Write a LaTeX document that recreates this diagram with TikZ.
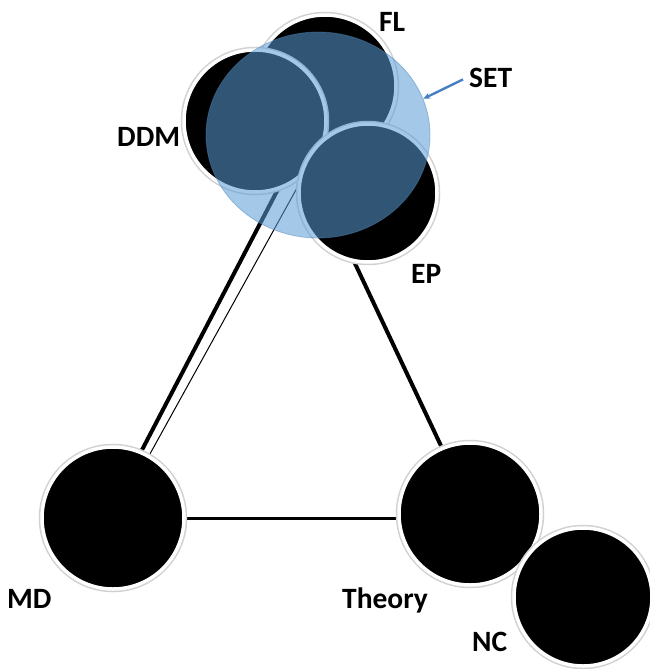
\documentclass[tikz,border=0pt]{standalone}
\usepackage{fontspec}
\setmainfont{Carlito}
\usetikzlibrary{shapes.geometric,arrows.meta}
\definecolor{setblue}{RGB}{91,155,213}
\definecolor{arrowblue}{RGB}{70,128,195}
\pgfdeclarelayer{background}
\pgfsetlayers{background,main}
\begin{document}
\begin{tikzpicture}[x=1pt,y=-1pt,
  ball/.style={circle, fill=black, draw=white, line width=3.5pt, inner sep=0pt,
    preaction={draw=black!18, line width=6.5pt}},
  bigball/.style={ball, minimum size=142pt},
  smallball/.style={ball, minimum size=138pt},
  lbl/.style={anchor=base west, inner sep=0pt, font=\fontsize{29.5}{33}\selectfont\bfseries},
  thickline/.style={line width=4pt, black},
  midline/.style={line width=3pt, black},
  thinline/.style={line width=1pt, black},
  setcircle/.style={ellipse, minimum width=224pt, minimum height=206pt, inner sep=0pt,
    fill=setblue, fill opacity=0.55, draw=setblue!85!black, draw opacity=0.45, line width=0.8pt},
  setarrow/.style={-{Stealth[length=7pt,width=6pt]}, line width=2.4pt, arrowblue}
]
\useasboundingbox (0,0) rectangle (650,669);

% bottom nodes
\node[bigball] (MD) at (113,518) {};
\node[bigball] (Theory) at (470,514) {};
\node[smallball] (NC) at (583,597) {};

% top cluster
\node[bigball] (FL) at (325,86) {};
\node[bigball] (DDM) at (255,121) {};
\node[smallball] (EP) at (368,193) {};

% SET overlay
\node[setcircle] (SETc) at (318,135) {};

% connectors
\begin{pgfonlayer}{background}
\fill[white] (0,0) rectangle (650,669);
\draw[thickline] (DDM.-72) -- (MD.67);
\draw[thinline] (DDM.-47) -- (MD.60);
\draw[thickline] (EP.259) -- (Theory.113);
\draw[midline] (MD.east |- 0,518) -- (Theory.west |- 0,518);
\end{pgfonlayer}

% labels
\node[lbl] (lDDM) at (117,146) {DDM};
\node[lbl] (lFL) at (379,32) {FL};
\node[lbl] (lEP) at (411,283) {EP};
\node[lbl] (lSET) at (469,88) {SET};
\node[lbl] (lMD) at (7,608) {MD};
\node[lbl] (lTheory) at (342,608) {Theory};
\node[lbl] (lNC) at (472,651) {NC};

% SET arrow
\draw[setarrow] ([xshift=-6pt,yshift=-1pt]lSET.west) -- (SETc.19);
\end{tikzpicture}
\end{document}
